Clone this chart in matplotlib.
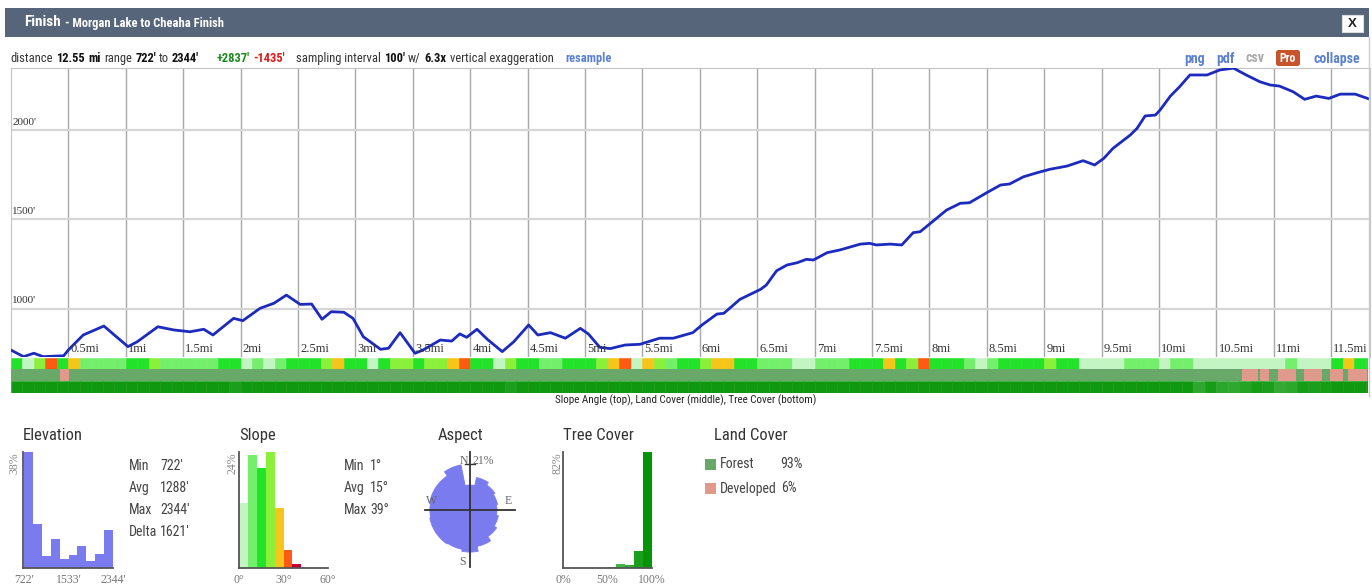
import os
import numpy as np
import matplotlib
matplotlib.use("Agg")
import matplotlib.pyplot as plt
from matplotlib import font_manager
from matplotlib.font_manager import FontProperties
from matplotlib.patches import Rectangle, Wedge, FancyBboxPatch

W, H = 1372, 588

# =============================================================================
# Data
# =============================================================================
# elevation profile (distance in miles, elevation in feet)
profile_mi = [
    0.00, 0.11, 0.20, 0.28, 0.46, 0.50, 0.63, 0.81, 0.89, 1.02,
    1.10, 1.28, 1.42, 1.56, 1.68, 1.76, 1.94, 2.02, 2.17, 2.29,
    2.40, 2.52, 2.62, 2.71, 2.79, 2.90, 2.98, 3.07, 3.22, 3.29,
    3.39, 3.52, 3.59, 3.74, 3.84, 3.91, 3.97, 4.06, 4.15, 4.28,
    4.38, 4.51, 4.59, 4.70, 4.83, 4.96, 5.03, 5.13, 5.22, 5.35,
    5.48, 5.65, 5.77, 5.94, 6.02, 6.15, 6.21, 6.35, 6.53, 6.58,
    6.67, 6.76, 6.85, 6.93, 6.99, 7.11, 7.22, 7.40, 7.48, 7.54,
    7.66, 7.76, 7.86, 7.92, 8.01, 8.15, 8.27, 8.35, 8.50, 8.62,
    8.70, 8.82, 8.94, 9.05, 9.20, 9.34, 9.44, 9.52, 9.60, 9.75,
    9.81, 9.88, 9.97, 10.01, 10.10, 10.18, 10.27, 10.36, 10.42, 10.53,
    10.65, 10.76, 10.88, 10.97, 11.05, 11.17, 11.27, 11.37, 11.48, 11.58,
    11.71, 11.84]
profile_ft = [
    769, 732, 751, 732, 737, 769, 853, 903, 859, 788,
    815, 899, 881, 871, 885, 853, 946, 933, 1002, 1030,
    1076, 1024, 1026, 941, 983, 980, 946, 843, 773, 779,
    866, 751, 769, 825, 819, 859, 840, 885, 829, 760,
    815, 909, 853, 866, 835, 890, 859, 784, 777, 797,
    801, 835, 835, 866, 909, 970, 974, 1052, 1108, 1132,
    1212, 1244, 1257, 1276, 1272, 1313, 1328, 1361, 1365, 1356,
    1361, 1356, 1425, 1430, 1477, 1551, 1589, 1592, 1648, 1691,
    1697, 1737, 1760, 1779, 1797, 1827, 1803, 1840, 1896, 1970,
    2008, 2077, 2082, 2110, 2188, 2240, 2306, 2306, 2306, 2334,
    2344, 2306, 2268, 2250, 2244, 2212, 2170, 2188, 2175, 2199,
    2199, 2170]

mile_ticks = [0.5, 1, 1.5, 2, 2.5, 3, 3.5, 4, 4.5, 5, 5.5, 6, 6.5, 7, 7.5,
              8, 8.5, 9, 9.5, 10, 10.5, 11, 11.5]
feet_ticks = [1000, 1500, 2000]

# strips below the profile, one cell per 0.1 mi
cell_mi = 0.1
slope_deg = [
    14, 5, 20, 32, 15, 26, 10, 9, 10, 8,
    14, 16, 19, 7, 8, 6, 10, 10, 15, 14,
    5, 7, 5, 8, 15, 16, 14, 20, 24, 14,
    13, 5, 14, 18, 20, 16, 22, 19, 26, 30,
    14, 15, 4, 18, 16, 14, 10, 9, 12, 14,
    15, 20, 28, 34, 5, 26, 18, 8, 16, 14,
    22, 24, 27, 14, 13, 8, 7, 9, 4, 5,
    10, 9, 11, 14, 15, 14, 26, 16, 18, 30,
    14, 15, 13, 6, 5, 8, 14, 15, 14, 16,
    19, 15, 14, 4, 3, 5, 4, 8, 9, 6,
    5, 7, 10, 4, 3, 5, 4, 3, 5, 4,
    3, 6, 4, 5, 4, 14, 25, 14, 12]
tree_pct = [
    95, 95, 95, 95, 95, 95, 95, 95, 95, 95,
    95, 95, 95, 95, 95, 95, 95, 95, 95, 90,
    95, 95, 95, 95, 95, 95, 95, 95, 95, 95,
    95, 95, 95, 95, 95, 95, 95, 95, 95, 95,
    95, 95, 95, 90, 95, 95, 95, 95, 95, 95,
    95, 95, 95, 95, 95, 95, 95, 95, 95, 95,
    95, 95, 95, 95, 95, 95, 95, 95, 95, 95,
    95, 95, 95, 95, 95, 95, 95, 95, 95, 95,
    95, 95, 95, 95, 95, 95, 95, 95, 95, 95,
    95, 95, 95, 95, 95, 95, 95, 95, 95, 95,
    95, 95, 95, 80, 92, 82, 80, 85, 92, 90,
    78, 82, 92, 90, 92, 95, 95, 95, 95]
developed_mi = [(0.43, 0.51), (10.72, 10.86), (10.88, 10.96), (11.04, 11.19),
                (11.26, 11.42), (11.49, 11.60), (11.65, 11.81)]

# summary histograms
elev_min, elev_max = 722, 2344
elev_hist_pct = [38, 14.4, 3.8, 9.6, 2.9, 4.4, 7.3, 2.4, 4.7, 12.3]
elev_stats = [("Min", "722'"), ("Avg", "1288'"), ("Max", "2344'"), ("Delta", "1621'")]

slope_bin_deg = 6
slope_hist_pct = [13.4, 23.3, 20.7, 24.0, 12.4, 3.7, 0.9]
slope_stats = [("Min", "1°"), ("Avg", "15°"), ("Max", "39°")]

aspect_dirs = ["N", "NNE", "NE", "ENE", "E", "ESE", "SE", "SSE",
               "S", "SSW", "SW", "WSW", "W", "WNW", "NW", "NNW"]
aspect_pct = [11.4, 15.1, 13.7, 12.8, 12.3, 13.2, 14.6, 16.9,
              19.2, 18.3, 18.7, 18.7, 18.3, 18.7, 18.7, 21.0]

tree_bin_pct = 10
tree_hist_pct = [0, 0, 0, 0, 0, 0.5, 2.6, 1.9, 11.8, 82]

land_names = ["Forest", "Developed"]
land_pct = [93, 6]

# =============================================================================
# Fonts: look for an installed narrow / condensed sans, else shrink Liberation Sans
# =============================================================================
def find_narrow():
    bad = ("italic", "oblique", "semi", "extra", "light", "medium", "thin",
           "black", "mono", "serif", "display", "ultra", "heavy")
    found = {}
    for f in font_manager.fontManager.ttflist:
        base = os.path.basename(f.fname).lower()
        if not ("narrow" in base or "condensed" in base):
            continue
        if any(b in base for b in bad):
            continue
        for fam in ("liberation", "arial", "roboto", "opensans", "dejavu", "noto", ""):
            if fam in base:
                slot = found.setdefault(fam, {})
                slot["bold" if "bold" in base else "regular"] = f.fname
                break
    for fam in ("liberation", "arial", "roboto", "opensans", "dejavu", "noto", ""):
        slot = found.get(fam, {})
        if "regular" in slot:
            return slot["regular"], slot.get("bold", slot["regular"])
    return None, None


NARROW_REG, NARROW_BOLD = find_narrow()
SERIF = "Liberation Serif"


def nfont(size, bold=False):
    if NARROW_REG:
        return FontProperties(fname=NARROW_BOLD if bold else NARROW_REG, size=size)
    return FontProperties(family="Liberation Sans", size=size * 0.86,
                          weight="bold" if bold else "normal")


slope_colors = ["#c2f5c2", "#74ef6c", "#22e22a", "#8af03a", "#f5c51a", "#ff5a12", "#c4002c"]
forest_color = "#68a868"
developed_color = "#e09a8c"
rose_color = "#7b7bf0"
line_color = "#1c2bbd"
link_blue = "#5b80d0"


def slope_color(d):
    return slope_colors[min(int(d // slope_bin_deg), len(slope_colors) - 1)]


def tree_color(p):
    light = np.array([0.86, 0.97, 0.86])
    dark = np.array([0.02, 0.58, 0.02])
    f = p / 100.0
    return tuple(light * (1 - f) + dark * f)


def px_axes(x0, y0, x1, y1):
    return fig.add_axes([x0 / W, 1 - y1 / H, (x1 - x0) / W, (y1 - y0) / H])


fig = plt.figure(figsize=(W / 100, H / 100), dpi=100)
fig.patch.set_facecolor("white")

# overlay in pixel coordinates for header, texts and widgets
bg = fig.add_axes([0, 0, 1, 1], zorder=5)
bg.set_xlim(0, W)
bg.set_ylim(H, 0)
bg.axis("off")
bg.patch.set_alpha(0)
renderer = fig.canvas.get_renderer()


def ntext(x, y, s, size, bold=False, color="#333333", ha="left"):
    return bg.text(x, y, s, fontproperties=nfont(size, bold), color=color, ha=ha, va="center")


def run_text(x, y, pieces, size):
    for s, bold, color, gap in pieces:
        t = ntext(x, y, s, size, bold, color)
        x = t.get_window_extent(renderer).x1 + gap
    return x


# header bar
bg.add_patch(Rectangle((5, 8), W - 8, 29, facecolor="#56657a", edgecolor="none"))
x_after = run_text(24, 22.5, [("Finish", True, "white", 4)], 11)
ntext(x_after, 23.5, "- Morgan Lake to Cheaha Finish", 9, True, "white")
bg.add_patch(Rectangle((1342, 15), 21, 17, facecolor="white", edgecolor="#dddddd", lw=0.8))
bg.text(1352.5, 23.8, "X", ha="center", va="center", fontsize=9.5, fontweight="bold",
        color="#222222", family="Liberation Sans")
bg.plot([1369, 1369], [37, 396], color="#cccccc", lw=1)

# summary line
dark, black = "#333333", "#111111"
run_text(10, 58.5, [
    ("distance", False, dark, 4), ("12.55", True, black, 3), ("mi", True, black, 4),
    ("range", False, dark, 3), ("722'", True, black, 3), ("to", False, dark, 3),
    ("2344'", True, black, 17), ("+2837'", True, "#1d8a1d", 4),
    ("-1435'", True, "#dd1a1a", 11), ("sampling interval", False, dark, 3),
    ("100'", True, black, 3), ("w/", False, dark, 4), ("6.3x", True, black, 3),
    ("vertical exaggeration", False, dark, 12), ("resample", True, link_blue, 0)], 9.0)

ntext(1184, 58.5, "png", 10, True, link_blue)
ntext(1216, 58.5, "pdf", 10, True, link_blue)
ntext(1246, 58.5, "csv", 10, True, "#aaaaaa")
bg.add_patch(FancyBboxPatch((1276, 50), 24, 16, boxstyle="round,pad=0,rounding_size=2.5",
                            facecolor="#c9532a", edgecolor="none"))
ntext(1288, 58.5, "Pro", 8.5, True, "white", ha="center")
ntext(1360, 58.5, "collapse", 10, True, link_blue, ha="right")

# =============================================================================
# Elevation profile
# =============================================================================
x_end = (1370 - 10.9) / 114.8
ax = px_axes(10.9, 68, 1370, 357)
ax.plot(profile_mi, profile_ft, color=line_color, lw=2.0, solid_joinstyle="round",
        solid_capstyle="round", zorder=3)
ax.set_xlim(0, x_end)
ax.set_ylim(730, 2345)
for v in mile_ticks:
    ax.axvline(v, color="#a8a8a8", lw=1.0, zorder=1)
    ax.text(v + 0.02, 0.008, f"{v:g}mi", transform=ax.get_xaxis_transform(),
            fontsize=9, family=SERIF, color="#333333", ha="left", va="bottom", zorder=4)
for v in feet_ticks:
    ax.axhline(v, color="#d6d6d6", lw=1.6, zorder=1)
    ax.text(0.012, v + 18, f"{v}'", fontsize=8, family=SERIF, color="#333333",
            ha="left", va="bottom", zorder=4)
ax.set_xticks([])
ax.set_yticks([])
for side in ["left", "top", "right"]:
    ax.spines[side].set_color("#c4c4c4")
ax.spines["bottom"].set_visible(False)

# slope / land cover / tree cover strips
sx = px_axes(10.9, 357.5, 1368, 392.7)
cells = [(i * cell_mi, cell_mi) for i in range(len(slope_deg))]
sx.broken_barh(cells, (2, 1), facecolors=[slope_color(d) for d in slope_deg],
               edgecolors="face", linewidth=0.4)
sx.broken_barh([(0, x_end)], (1, 1), facecolors=forest_color, edgecolors="none")
sx.broken_barh([(a, b - a) for a, b in developed_mi], (1, 1),
               facecolors=developed_color, edgecolors="none")
tcells = [(i * cell_mi, cell_mi) for i in range(len(tree_pct))]
sx.broken_barh(tcells, (0, 1), facecolors=[tree_color(p) for p in tree_pct],
               edgecolors="face", linewidth=0.4)
sx.set_xlim(0, x_end - (1370 - 1368) / 114.8)
sx.set_ylim(0, 3)
sx.axis("off")
ntext(686, 400.5, "Slope Angle (top), Land Cover (middle), Tree Cover (bottom)", 8, False,
      "#222222", ha="center")

# =============================================================================
# Summary panels
# =============================================================================
TITLE = 12.0
STAT = 10.0
tick_kw = dict(labelsize=8.5, labelcolor="#777777", length=0, pad=4)


def style_hist(a, top_label, xlab_x):
    for side in ["top", "right"]:
        a.spines[side].set_visible(False)
    for side in ["left", "bottom"]:
        a.spines[side].set_color("#555555")
        a.spines[side].set_linewidth(1.3)
    a.set_yticks([])
    a.tick_params(axis="x", **tick_kw)
    for lab in a.get_xticklabels():
        lab.set_family(SERIF)
    a.text(xlab_x, 1.0, top_label, transform=a.transAxes, rotation=90, ha="center",
           va="top", fontsize=8.5, family=SERIF, color="#888888")
    a.patch.set_alpha(0)


def stat_block(x_lab, x_val, rows):
    widths = []
    for i, (lab, val) in enumerate(rows):
        t = ntext(x_lab, 466.5 + 21.8 * i, lab, STAT, False, "#444444")
        widths.append(t.get_window_extent(renderer).x1)
    col = max(x_val, max(widths) + 3)
    for i, (lab, val) in enumerate(rows):
        ntext(col, 466.5 + 21.8 * i, val, STAT, False, "#444444")


# elevation histogram
ntext(23, 435.5, "Elevation", TITLE)
ex = px_axes(23, 452, 113, 568)
edges = np.linspace(elev_min, elev_max, len(elev_hist_pct) + 1)
ex.bar(edges[:-1], elev_hist_pct, width=np.diff(edges), align="edge", color=rose_color)
ex.set_xlim(elev_min - 20, elev_max)
ex.set_ylim(0, max(elev_hist_pct))
ex.set_xticks([elev_min, (elev_min + elev_max) / 2, elev_max],
              ["722'", "1533'", "2344'"])
style_hist(ex, "38%", -0.09)
stat_block(129, 159, elev_stats)

# slope histogram
ntext(239, 435.5, "Slope", TITLE)
slx = px_axes(239, 452, 328, 568)
s_edges = np.arange(len(slope_hist_pct)) * slope_bin_deg
slx.bar(s_edges, slope_hist_pct, width=slope_bin_deg, align="edge", color=slope_colors)
slx.set_xlim(0, 60)
slx.set_ylim(0, max(slope_hist_pct))
slx.set_xticks([0, 30, 60], ["0°", "30°", "60°"])
style_hist(slx, "24%", -0.07)
stat_block(344, 362, slope_stats)

# aspect rose
ntext(460, 435.5, "Aspect", TITLE, ha="center")
k = 0.4565  # percent per pixel
rx = px_axes(410, 450, 530, 570)
half = 60 * k
rx.set_xlim(-half, half)
rx.set_ylim(-half, half)
rx.axis("off")
step = 360 / len(aspect_pct)
for i, p in enumerate(aspect_pct):
    c = i * step
    rx.add_patch(Wedge((0, 0), p, 90 - c - step / 2, 90 - c + step / 2,
                       facecolor=rose_color, edgecolor=rose_color, lw=0.6))
rx.plot([-45 * k, 45 * k], [0, 0], color="#333333", lw=1.3)
rx.plot([0, 0], [-57 * k, 58 * k], color="#333333", lw=1.3)
rx.plot([-2.2, 2.2], [max(aspect_pct), max(aspect_pct)], color="#333333", lw=1.0)
lab_kw = dict(fontsize=8.5, family=SERIF, color="#666666", va="center")
rx.text(-0.8, max(aspect_pct) + 1.2, "N", ha="right", **lab_kw)
rx.text(1.2, max(aspect_pct) + 1.2, f"{max(aspect_pct):g}%", ha="left", **lab_kw)
rx.text(-38 * k, 9 * k, "W", ha="center", **lab_kw)
rx.text(38 * k, 9 * k, "E", ha="center", **lab_kw)
rx.text(-7 * k, -52 * k, "S", ha="center", **lab_kw)

# tree cover histogram
ntext(563, 435.5, "Tree Cover", TITLE)
tx = px_axes(563, 452, 652, 568)
t_edges = np.arange(len(tree_hist_pct)) * tree_bin_pct
tx.bar(t_edges, tree_hist_pct, width=tree_bin_pct, align="edge",
       color=[tree_color(e + tree_bin_pct) for e in t_edges])
tx.set_xlim(0, 100)
tx.set_ylim(0, max(tree_hist_pct))
tx.set_xticks([0, 50, 100], ["0%", "50%", "100%"])
style_hist(tx, "82%", -0.06)

# land cover legend
ntext(751, 435.5, "Land Cover", TITLE, ha="center")
for i, (name, pct) in enumerate(zip(land_names, land_pct)):
    y = 464.5 + 24 * i
    col = forest_color if name == "Forest" else developed_color
    bg.add_patch(Rectangle((705, y - 5.5), 11, 11, facecolor=col, edgecolor="none"))
    t = ntext(720, y, name, STAT, False, "#444444")
    end = t.get_window_extent(renderer).x1
    ntext(max(780, end + 4) if i == 0 else end + 4, y, f"{pct}%", STAT, False, "#444444")

fig.savefig("out.png", dpi=100)
